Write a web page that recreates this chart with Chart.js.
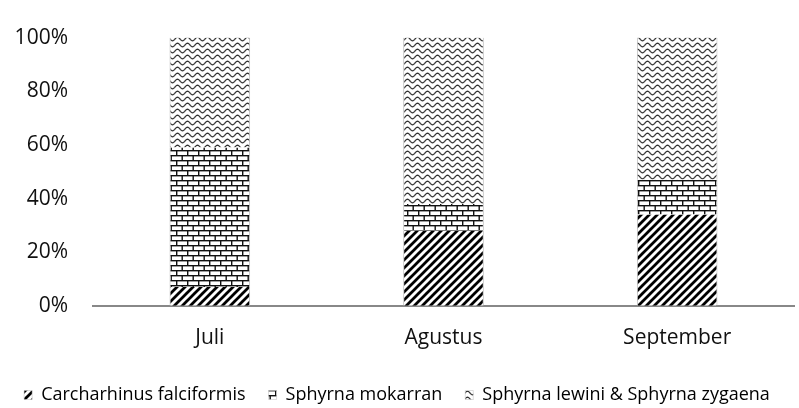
<!DOCTYPE html>
<html><head><meta charset="utf-8">
<script src="https://cdn.jsdelivr.net/npm/chart.js@4/dist/chart.umd.min.js"></script>
<style>html,body{margin:0;padding:0;background:#fff;overflow:hidden}#wrap{width:799px;height:408px}</style>
</head><body><div id="wrap"><canvas id="c" width="799" height="408"></canvas></div>
<script>
const categories = ["Juli", "Agustus", "September"];
const falciformis = [7, 28, 34];
const mokarran = [52, 10, 13];
const lewiniZygaena = [41, 62, 53];
const seriesNames = ["Carcharhinus falciformis", "Sphyrna mokarran", "Sphyrna lewini & Sphyrna zygaena"];
const yTicks = [0, 20, 40, 60, 80, 100];

function mk(w, h, draw) {
  const c = document.createElement('canvas'); c.width = w; c.height = h;
  const g = c.getContext('2d'); g.fillStyle = '#fff'; g.fillRect(0, 0, w, h);
  draw(g, w, h);
  return document.getElementById('c').getContext('2d').createPattern(c, 'repeat');
}
const diag = mk(8, 8, (g, w, h) => {
  g.strokeStyle = '#000'; g.lineWidth = 2.8; g.lineCap = 'square';
  for (let k = -1; k <= 1; k++) { g.beginPath(); g.moveTo(k * w, h); g.lineTo(k * w + w, 0); g.stroke(); }
});
const brick = mk(11, 10, (g, w, h) => {
  g.fillStyle = '#111';
  g.fillRect(0, 0, w, 1.4); g.fillRect(0, 5, w, 1.4);
  g.fillRect(0, 0, 1.4, 5); g.fillRect(5.5, 5, 1.4, 5);
});
const wave = mk(10, 6, (g, w, h) => {
  g.strokeStyle = '#333'; g.lineWidth = 1.2;
  g.beginPath();
  for (let x = -1; x <= w + 1; x += 0.5) {
    const y = 3 + 1.8 * Math.sin(2 * Math.PI * x / w);
    if (x === -1) g.moveTo(x, y); else g.lineTo(x, y);
  }
  g.stroke();
});

const font = "'Open Sans', Lato, sans-serif";
new Chart(document.getElementById('c'), {
  type: 'bar',
  data: {
    labels: categories,
    datasets: [
      { label: seriesNames[0], data: falciformis, backgroundColor: diag, borderColor: '#bbb', borderWidth: {left:1,right:1} },
      { label: seriesNames[1], data: mokarran, backgroundColor: brick, borderColor: '#bbb', borderWidth: {left:1,right:1} },
      { label: seriesNames[2], data: lewiniZygaena, backgroundColor: wave, borderColor: '#bbb', borderWidth: {left:1,right:1} }
    ]
  },
  options: {
    responsive: false, animation: false,
    layout: { padding: { top: 9, right: 5, left: 0, bottom: -6 } },
    datasets: { bar: { categoryPercentage: 1, barPercentage: 0.345 } },
    plugins: {
      tooltip: { enabled: false },
      legend: {
        position: 'bottom',
        labels: { font: { family: font, size: 18 }, color: '#000', boxWidth: 8, boxHeight: 9, padding: 23 }
      }
    },
    scales: {
      x: {
        stacked: true,
        afterFit: (s) => { s.height -= 8; },
        grid: { display: false, drawTicks: false },
        border: { color: '#888', width: 2 },
        ticks: { font: { family: font, size: 21 }, color: '#111', padding: 20 }
      },
      y: {
        stacked: true, min: 0, max: 100,
        afterFit: (s) => { s.width = 93; },
        afterBuildTicks: (s) => { s.ticks = yTicks.map(v => ({ value: v })); },
        grid: { display: false, drawTicks: false },
        border: { display: false },
        ticks: { font: { family: font, size: 21 }, color: '#111', padding: 25, callback: v => v + '%' }
      }
    }
  }
});
</script></body></html>
